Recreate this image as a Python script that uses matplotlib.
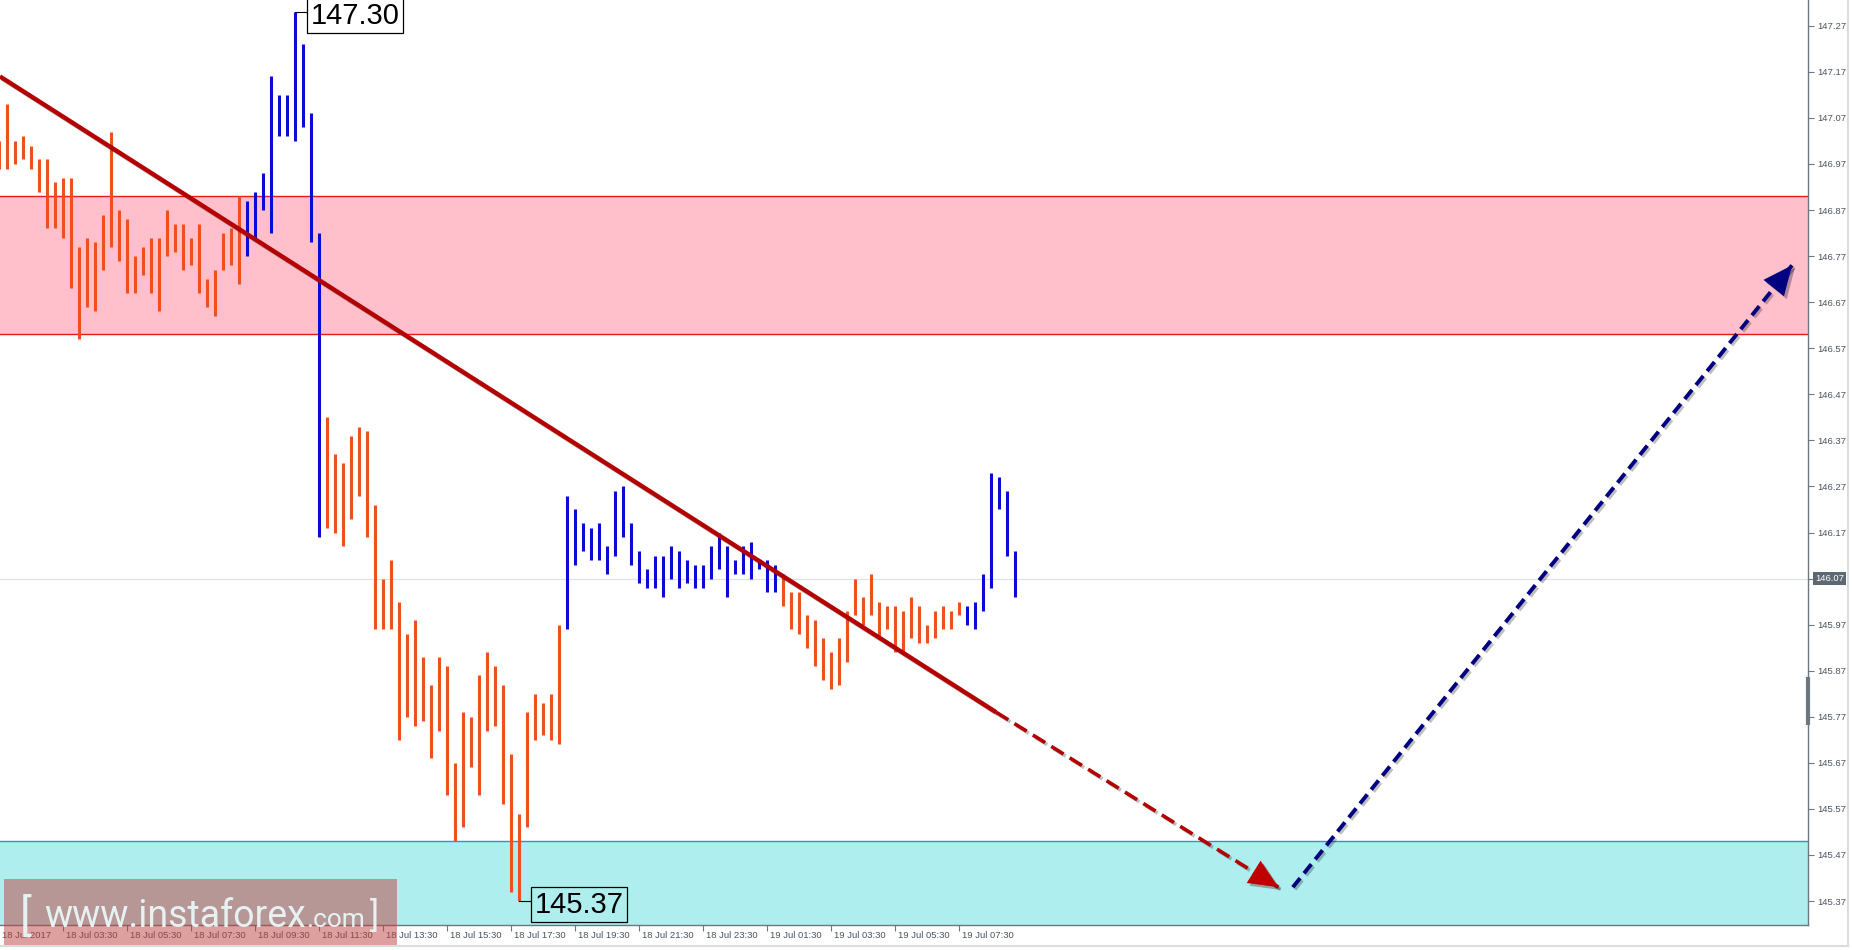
import numpy as np
import matplotlib
matplotlib.use("Agg")
from matplotlib import pyplot as plt
from matplotlib import patheffects as pe
from matplotlib import transforms
from matplotlib.patches import Rectangle

# M15 bars, first bar sits at index -1 (cut by the left edge)
first_bar = -1
highs = [147.02,
         147.10, 147.02, 147.03, 147.01, 146.98, 146.98, 146.93, 146.94, 146.94, 146.79,
         146.81, 146.80, 146.86, 147.04, 146.87, 146.85, 146.77, 146.79, 146.81, 146.81,
         146.87, 146.84, 146.84, 146.81, 146.84, 146.72, 146.74, 146.82, 146.83, 146.90,
         146.89, 146.91, 146.95, 147.16, 147.12, 147.12, 147.30, 147.23, 147.08, 146.82,
         146.42, 146.34, 146.32, 146.38, 146.40, 146.39, 146.23, 146.07, 146.11, 146.02,
         145.95, 145.98, 145.90, 145.84, 145.90, 145.88, 145.67, 145.78, 145.77, 145.86,
         145.91, 145.88, 145.84, 145.69, 145.56, 145.78, 145.82, 145.80, 145.82, 145.97,
         146.25, 146.22, 146.19, 146.18, 146.19, 146.14, 146.26, 146.27, 146.19, 146.13,
         146.09, 146.12, 146.12, 146.14, 146.13, 146.11, 146.10, 146.10, 146.14, 146.17,
         146.14, 146.11, 146.14, 146.15, 146.11, 146.11, 146.10, 146.08, 146.04, 146.04,
         145.99, 145.98, 145.94, 145.91, 145.94, 146.00, 146.07, 146.03, 146.08, 146.02,
         146.01, 146.01, 146.00, 146.03, 146.01, 145.97, 146.00, 146.01, 146.00, 146.02,
         146.01, 146.02, 146.08, 146.30, 146.29, 146.26, 146.13]
lows = [146.96,
        146.96, 146.97, 146.98, 146.96, 146.91, 146.83, 146.83, 146.81, 146.70, 146.59,
        146.66, 146.65, 146.74, 146.79, 146.76, 146.69, 146.69, 146.73, 146.69, 146.65,
        146.77, 146.78, 146.74, 146.75, 146.69, 146.66, 146.64, 146.74, 146.75, 146.71,
        146.77, 146.81, 146.87, 146.82, 147.03, 147.03, 147.02, 147.05, 146.80, 146.16,
        146.18, 146.17, 146.14, 146.20, 146.25, 146.16, 145.96, 145.96, 145.96, 145.72,
        145.77, 145.75, 145.76, 145.68, 145.74, 145.60, 145.50, 145.53, 145.66, 145.60,
        145.74, 145.75, 145.58, 145.39, 145.37, 145.53, 145.72, 145.73, 145.72, 145.71,
        145.96, 146.10, 146.13, 146.11, 146.11, 146.08, 146.12, 146.16, 146.10, 146.06,
        146.05, 146.05, 146.03, 146.07, 146.05, 146.06, 146.05, 146.05, 146.07, 146.09,
        146.03, 146.08, 146.08, 146.07, 146.09, 146.04, 146.04, 146.01, 145.96, 145.95,
        145.92, 145.88, 145.85, 145.83, 145.84, 145.89, 145.99, 145.97, 145.99, 145.94,
        145.96, 145.91, 145.91, 145.94, 145.93, 145.93, 145.94, 145.96, 145.96, 145.99,
        145.97, 145.96, 146.00, 146.05, 146.22, 146.12, 146.03]
# bar index ranges drawn in blue (rising waves)
up_waves = [(30, 39), (70, 96), (120, 126)]

sell_zone = (146.60, 146.90)
buy_zone_top = 145.50
last_price = 146.07
peak_bar, peak_price = 36, 147.30
low_bar, low_price = 64, 145.37

# trend line and forecast arrows (bar index, price)
trend_x, trend_y = [-0.91, 123.6], [147.16, 145.78]
down_x, down_y = [123.6, 158.9], [145.78, 145.40]
up_x, up_y = [160.7, 223.1], [145.40, 146.75]

price_ticks = [145.37, 145.47, 145.57, 145.67, 145.77, 145.87, 145.97, 146.07, 146.17, 146.27,
               146.37, 146.47, 146.57, 146.67, 146.77, 146.87, 146.97, 147.07, 147.17, 147.27]
time_ticks = [-1, 7, 15, 23, 31, 39, 47, 55, 63, 71, 79, 87, 95, 103, 111, 119]
time_labels = ["18 Jul 2017", "18 Jul 03:30", "18 Jul 05:30", "18 Jul 07:30", "18 Jul 09:30",
               "18 Jul 11:30", "18 Jul 13:30", "18 Jul 15:30", "18 Jul 17:30", "18 Jul 19:30",
               "18 Jul 21:30", "18 Jul 23:30", "19 Jul 01:30", "19 Jul 03:30", "19 Jul 05:30",
               "19 Jul 07:30"]

W, H = 1852, 950
fig = plt.figure(figsize=(W / 100, H / 100), dpi=100)
fig.patch.set_facecolor("white")
ax = fig.add_axes([0, 25 / H, 1808 / W, 925 / H])
ax.set_xlim(-0.91, 225.1)
ax.set_ylim(145.318, 147.326)

axis_grey = "#6c7780"
for s in ["top", "left"]:
    ax.spines[s].set_visible(False)
for s in ["right", "bottom"]:
    ax.spines[s].set_color(axis_grey)
    ax.spines[s].set_linewidth(1)

# zones
ax.axhspan(sell_zone[0], sell_zone[1], facecolor="#ffc0cb", edgecolor="none", zorder=0)
ax.axhline(sell_zone[0], color="#e41b1b", lw=1, zorder=1)
ax.axhline(sell_zone[1], color="#e41b1b", lw=1, zorder=1)
ax.axhspan(144, buy_zone_top, facecolor="#afeeee", edgecolor="none", zorder=0)
ax.axhline(buy_zone_top, color="#2f8fd8", lw=1, zorder=1)
ax.axhline(last_price, color="#dfe2ec", lw=0.9, zorder=1)

# bars
bar_idx = np.arange(first_bar, first_bar + len(highs))
colors = ["#ee5020"] * len(highs)
for a, b in up_waves:
    for k in range(a, b + 1):
        colors[k - first_bar] = "#0b0bd6"
ax.vlines(bar_idx, lows, highs, colors=colors, linewidth=2.2, zorder=3)

# trend line + forecasts
shadow = [pe.SimpleLineShadow(offset=(1.5, -1.5), alpha=0.25), pe.Normal()]
ax.plot(trend_x, trend_y, color="#b30000", lw=3.2, solid_capstyle="butt", path_effects=shadow, zorder=5)
ax.plot(down_x, down_y, color="#b30000", lw=2.6, ls=(0, (4, 2)), path_effects=shadow, zorder=5)
ax.plot(up_x, up_y, color="#000080", lw=2.8, ls=(0, (3, 1.6)), path_effects=shadow, zorder=5)

def head(x, y, color):
    dx = x[1] - x[0]
    dy = y[1] - y[0]
    back = (x[1] - dx * 0.1, y[1] - dy * 0.1)
    ann = ax.annotate("", xy=(x[1], y[1]), xytext=back,
                      arrowprops=dict(arrowstyle="-|>,head_length=1.0,head_width=0.45",
                                      mutation_scale=21, color=color, lw=0, shrinkA=0, shrinkB=0),
                      zorder=6)
    ann.arrow_patch.set_path_effects([pe.SimplePatchShadow(offset=(2, -2), alpha=0.3), pe.Normal()])

head(down_x, down_y, "#c00000")
head(up_x, up_y, "#000080")

# extreme labels
ax.plot([peak_bar, peak_bar + 1.3], [peak_price, peak_price], color="black", lw=0.8, zorder=6)
ax.text(peak_bar + 1.9, peak_price - 0.008, "147.30", fontsize=21, family="Liberation Sans",
        va="center", ha="left", zorder=7,
        bbox=dict(boxstyle="square,pad=0.12", fc="white", ec="black", lw=0.9))
ax.plot([low_bar, low_bar + 1.3], [low_price, low_price], color="black", lw=0.8, zorder=6)
ax.text(low_bar + 1.9, low_price - 0.008, "145.37", fontsize=21, family="Liberation Sans",
        va="center", ha="left", zorder=7,
        bbox=dict(boxstyle="square,pad=0.12", fc="none", ec="black", lw=0.9))

# price axis (the last price gets its own dark box instead of a plain label)
ax.yaxis.tick_right()
ax.set_yticks(price_ticks)
ax.set_yticklabels(["" if abs(p - last_price) < 1e-6 else "%.2f" % p for p in price_ticks])
ax.tick_params(axis="y", length=4, width=0.8, color=axis_grey, pad=3, labelsize=6.8,
               labelcolor="#4a545e")
for lab in ax.get_yticklabels():
    lab.set_family("Liberation Sans")
ytrans = transforms.blended_transform_factory(ax.transAxes, ax.transData)
ax.text(1 + 7 / 1808, last_price, "%.2f" % last_price, transform=ytrans,
        fontsize=6.8, family="Liberation Sans", color="white", va="center", ha="left", zorder=8, clip_on=False,
        bbox=dict(boxstyle="square,pad=0.2", fc="#5d6873", ec="none"))
ax.plot([1, 1], [145.757, 145.852], transform=ytrans, color=axis_grey, lw=3, clip_on=False, zorder=8)

# time axis
ax.set_xticks([t for t in time_ticks if t >= 0])
ax.tick_params(axis="x", length=4, width=0.8, color=axis_grey, labelbottom=False)
xtrans = transforms.offset_copy(ax.get_xaxis_transform(), fig=fig, x=3, y=-10, units="dots")
for t, lab in zip(time_ticks, time_labels):
    ax.text(t, 0, lab, transform=xtrans, fontsize=6.8, family="Liberation Sans", color="#4a545e",
            ha="left", va="center", clip_on=False)

# outer frame lines
fig.add_artist(plt.Line2D([0, 1848 / W], [4 / H, 4 / H], color="#dcdcdc", lw=1.5))
fig.add_artist(plt.Line2D([1848 / W, 1848 / W], [4 / H, 1], color="#dcdcdc", lw=1.5))

# watermark
fig.add_artist(Rectangle((4 / W, 5 / H), 393 / W, 66 / H, transform=fig.transFigure,
                         facecolor=(0.75, 0.25, 0.25), alpha=0.5, edgecolor="none", zorder=10))
renderer = fig.canvas.get_renderer()
wm = dict(color="#e6f2f2", family="Roboto", va="baseline", ha="left", zorder=11)
x = 20
for piece, size, gap, base in [("[", 32, 12, 930), ("www.instaforex", 27, 0, 927),
                               (".com", 19, 6, 927), ("]", 25, 0, 927)]:
    t = fig.text(x / W, 1 - base / H, piece, fontsize=size, **wm)
    x = t.get_window_extent(renderer).x1 + gap

fig.savefig("out.png", dpi=100)
